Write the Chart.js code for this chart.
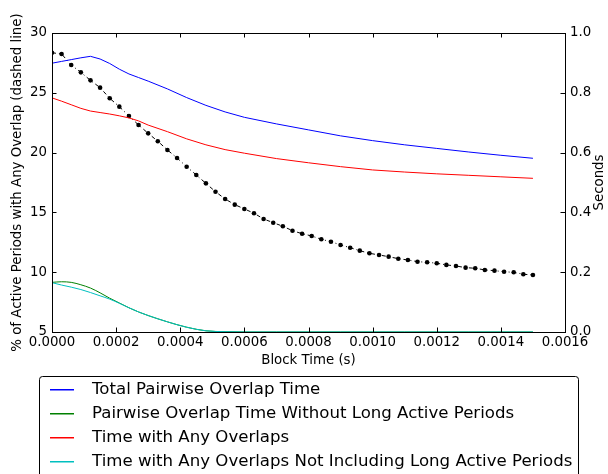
<!DOCTYPE html>
<html>
<head>
<meta charset="utf-8">
<script src="https://cdn.jsdelivr.net/npm/chart.js@4"></script>
<style>
  body { margin: 0; background: #fff; }
  #wrap { width: 608px; height: 474px; }
</style>
</head>
<body>
<div id="wrap"><canvas id="chart" width="608" height="474"></canvas></div>
<script>
// block time samples for the dashed line (s)
const dotX = [0, 0.00003, 0.00006, 0.00009, 0.00012, 0.00015, 0.00018, 0.00021, 0.00024, 0.00027,
  0.0003, 0.00033, 0.00036, 0.00039, 0.00042, 0.00045, 0.00048, 0.00051, 0.00054, 0.00057,
  0.0006, 0.00063, 0.00066, 0.00069, 0.00072, 0.00075, 0.00078, 0.00081, 0.00084, 0.00087,
  0.0009, 0.00093, 0.00096, 0.00099, 0.00102, 0.00105, 0.00108, 0.00111, 0.00114, 0.00117,
  0.0012, 0.00123, 0.00126, 0.00129, 0.00132, 0.00135, 0.00138, 0.00141, 0.00144, 0.00147, 0.0015];
// % of active periods with any overlap
const pctOverlap = [28.35, 28.24, 27.32, 26.71, 26.04, 25.43, 24.54, 23.84, 23.06, 22.31,
  21.61, 20.95, 20.22, 19.55, 18.82, 18.13, 17.43, 16.73, 16.12, 15.65,
  15.29, 14.93, 14.45, 14.14, 13.84, 13.47, 13.22, 13.03, 12.75, 12.55,
  12.28, 12.05, 11.80, 11.58, 11.44, 11.30, 11.13, 11.02, 10.88, 10.83,
  10.75, 10.61, 10.52, 10.38, 10.33, 10.19, 10.13, 10.04, 9.99, 9.83, 9.77];

// block time samples for the seconds lines
const timeX = [0, 0.00003, 0.00006, 0.00009, 0.00012, 0.00015, 0.00018, 0.00021, 0.00024, 0.00027,
  0.0003, 0.00036, 0.00042, 0.00048, 0.00054, 0.0006, 0.0007, 0.0008, 0.0009, 0.001,
  0.0011, 0.0012, 0.0013, 0.0014, 0.0015];
const totalPairwise = [0.899, 0.905, 0.911, 0.917, 0.922, 0.913, 0.898, 0.879, 0.863, 0.851,
  0.839, 0.813, 0.784, 0.758, 0.736, 0.718, 0.696, 0.676, 0.656, 0.640,
  0.626, 0.614, 0.602, 0.591, 0.581];
const pairwiseNoLong = [0.166, 0.168, 0.166, 0.158, 0.147, 0.131, 0.113, 0.097, 0.081, 0.067,
  0.055, 0.034, 0.016, 0.004, 0.001, 0, 0, 0, 0, 0,
  0, 0, 0, 0, 0];
const anyOverlaps = [0.783, 0.772, 0.760, 0.748, 0.739, 0.734, 0.729, 0.723, 0.716, 0.706,
  0.692, 0.670, 0.646, 0.626, 0.610, 0.598, 0.580, 0.566, 0.553, 0.542,
  0.535, 0.529, 0.524, 0.519, 0.514];
const anyOverlapsNoLong = [0.165, 0.157, 0.150, 0.142, 0.132, 0.121, 0.110, 0.096, 0.081, 0.067,
  0.055, 0.034, 0.016, 0.004, 0.001, 0, 0, 0, 0, 0,
  0, 0, 0, 0, 0];

const xTicks = [0, 0.0002, 0.0004, 0.0006, 0.0008, 0.001, 0.0012, 0.0014, 0.0016];
const leftTicks = [5, 10, 15, 20, 25, 30];
const rightTicks = [0, 0.2, 0.4, 0.6, 0.8, 1.0];

const FONT = "'DejaVu Sans', sans-serif";
const pts = (xs, ys) => xs.map((x, i) => ({ x: x, y: ys[i] }));

// spines, inward ticks, right title, boxed legend
const framePlugin = {
  id: "frame",
  afterDatasetsDraw(chart) {
    const { ctx, chartArea: a, scales } = chart;
    const L = 4.5;
    ctx.save();
    ctx.strokeStyle = "#000";
    ctx.lineWidth = 1;
    ctx.beginPath();
    xTicks.forEach((v) => {
      const px = Math.round(scales.x.getPixelForValue(v)) + 0.5;
      ctx.moveTo(px, a.bottom); ctx.lineTo(px, a.bottom - L);
      ctx.moveTo(px, a.top); ctx.lineTo(px, a.top + L);
    });
    leftTicks.forEach((v) => {
      const py = Math.round(scales.y.getPixelForValue(v)) + 0.5;
      ctx.moveTo(a.left, py); ctx.lineTo(a.left + L, py);
    });
    rightTicks.forEach((v) => {
      const py = Math.round(scales.y1.getPixelForValue(v)) + 0.5;
      ctx.moveTo(a.right, py); ctx.lineTo(a.right - L, py);
    });
    ctx.stroke();
    ctx.strokeRect(Math.round(a.left) + 0.5, Math.round(a.top) + 0.5,
      Math.round(a.right - a.left), Math.round(a.bottom - a.top));
    ctx.restore();
  },
  afterDraw(chart) {
    const { ctx, chartArea: a } = chart;
    ctx.save();
    ctx.fillStyle = "#000";
    ctx.font = "13.33px " + FONT;
    ctx.textAlign = "center";
    ctx.textBaseline = "middle";
    ctx.translate(600, (a.top + a.bottom) / 2);
    ctx.rotate(-Math.PI / 2);
    ctx.fillText("Seconds", 0, 0);
    ctx.restore();

    // legend
    ctx.save();
    ctx.lineWidth = 1;
    ctx.strokeStyle = "#000";
    ctx.fillStyle = "#fff";
    ctx.beginPath();
    ctx.roundRect(39.5, 376.5, 539, 120, 3);
    ctx.fill();
    ctx.stroke();
    ctx.font = "16.6px " + FONT;
    ctx.textBaseline = "middle";
    ctx.textAlign = "left";
    const items = chart.data.datasets.filter((ds) => ds.inLegend);
    items.forEach((ds, row) => {
      const y = 389 + row * 24;
      ctx.fillStyle = ds.borderColor;
      ctx.fillRect(50, y, 24, 1.5);
      ctx.fillStyle = "#000";
      ctx.fillText(ds.label, 92, y + 1);
    });
    ctx.restore();
  }
};

new Chart(document.getElementById("chart"), {
  type: "line",
  data: {
    datasets: [
      { label: "Total Pairwise Overlap Time", data: pts(timeX, totalPairwise), yAxisID: "y1",
        borderColor: "#0000ff", borderWidth: 1, pointRadius: 0, order: 4, inLegend: true },
      { label: "Pairwise Overlap Time Without Long Active Periods", data: pts(timeX, pairwiseNoLong), yAxisID: "y1",
        borderColor: "#008000", borderWidth: 1, pointRadius: 0, order: 3, inLegend: true,
        cubicInterpolationMode: "monotone" },
      { label: "Time with Any Overlaps", data: pts(timeX, anyOverlaps), yAxisID: "y1",
        borderColor: "#ff0000", borderWidth: 1, pointRadius: 0, order: 2, inLegend: true },
      { label: "Time with Any Overlaps Not Including Long Active Periods", data: pts(timeX, anyOverlapsNoLong), yAxisID: "y1",
        borderColor: "#00bfbf", borderWidth: 1, pointRadius: 0, order: 1, inLegend: true,
        cubicInterpolationMode: "monotone" },
      { label: "% of Active Periods with Any Overlap", data: pts(dotX, pctOverlap), yAxisID: "y",
        borderColor: "#000", borderWidth: 1, borderDash: [4, 3, 1, 3],
        pointRadius: 2.3, pointBackgroundColor: "#000", pointBorderWidth: 0, order: 5, inLegend: false }
    ]
  },
  options: {
    responsive: false,
    animation: false,
    layout: { padding: { top: 33, bottom: 102, left: 0, right: 0 } },
    plugins: { legend: { display: false }, tooltip: { enabled: false } },
    scales: {
      x: {
        type: "linear", min: 0, max: 0.0016,
        afterBuildTicks: (s) => { s.ticks = xTicks.map((v) => ({ value: v })); },
        afterFit: (s) => { s.height = 40; },
        grid: { display: false, drawTicks: false },
        border: { display: false },
        ticks: { color: "#000", padding: 3, maxRotation: 0, font: { family: FONT, size: 13.33 },
          callback: (v) => v.toFixed(4) },
        title: { display: true, text: "Block Time (s)", color: "#000",
          font: { family: FONT, size: 13.33 }, padding: { top: 0, bottom: 3 } }
      },
      y: {
        position: "left", min: 5, max: 30,
        afterBuildTicks: (s) => { s.ticks = leftTicks.map((v) => ({ value: v })); },
        afterFit: (s) => { s.width = 52; },
        grid: { display: false, drawTicks: false },
        border: { display: false },
        ticks: { color: "#000", padding: 5, font: { family: FONT, size: 13.33 },
          callback: (v) => String(v) },
        title: { display: true, text: "% of Active Periods with Any Overlap (dashed line)", color: "#000",
          font: { family: FONT, size: 13.33 }, padding: { top: 10, bottom: 0 } }
      },
      y1: {
        position: "right", min: 0, max: 1,
        afterBuildTicks: (s) => { s.ticks = rightTicks.map((v) => ({ value: v })); },
        afterFit: (s) => { s.width = 43; },
        grid: { display: false, drawTicks: false },
        border: { display: false },
        ticks: { color: "#000", padding: 5, font: { family: FONT, size: 13.33 },
          callback: (v) => v.toFixed(1) }
      }
    }
  },
  plugins: [framePlugin]
});
</script>
</body>
</html>
